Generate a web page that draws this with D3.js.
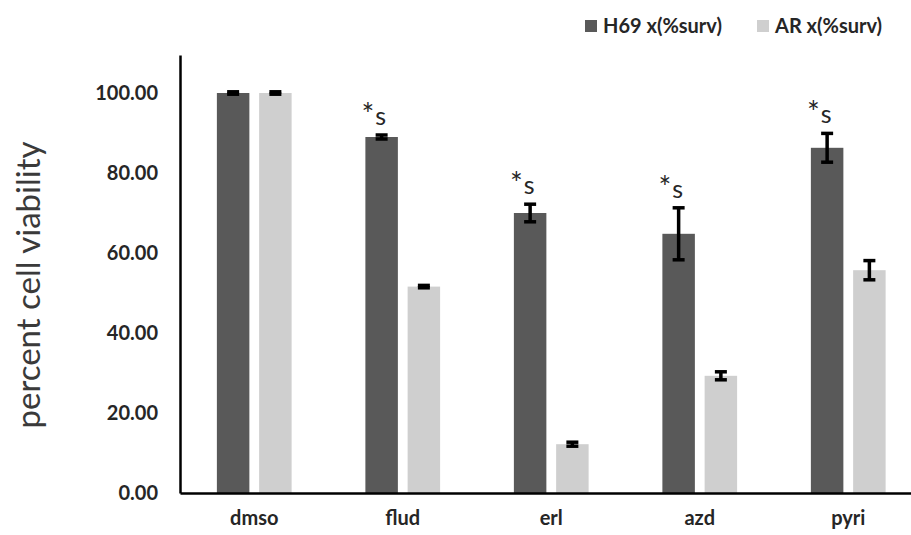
<!DOCTYPE html>
<html>
<head>
<meta charset="utf-8">
<script src="https://cdn.jsdelivr.net/npm/d3@7"></script>
<style>
  body { margin: 0; background: #fff; }
  text { font-family: Lato, "Open Sans", sans-serif; }
</style>
</head>
<body>
<script>
//data
var categories = ["dmso", "flud", "erl", "azd", "pyri"];
var seriesNames = ["H69 x(%surv)", "AR x(%surv)"];
var h69Values = [100, 89, 70, 64.8, 86.3];
var h69Errors = [0.3, 0.5, 2.2, 6.5, 3.6];
var arValues = [100, 51.6, 12.2, 29.3, 55.7];
var arErrors = [0.3, 0.3, 0.5, 1, 2.4];
var sigLabels = ["", "*s", "*s", "*s", "*s"];
var yTicks = [0, 20, 40, 60, 80, 100];

var colors = ["#595959", "#cfcfcf"];

var width = 911, height = 535;

var svg = d3.select("body")
  .append("svg")
  .attr("width", width)
  .attr("height", height);

//scales
var x = d3.scaleBand()
  .domain(categories)
  .range([180, 922.5])
  .padding(0);

var xInner = d3.scaleBand()
  .domain(seriesNames)
  .range([0, x.bandwidth()])
  .paddingInner(0.231)
  .paddingOuter(0.873);

var y = d3.scaleLinear()
  .domain([0, 109.5])
  .range([493, 55]);

//build rows for the bars
var rows = [];
categories.forEach(function(c, i){
  rows.push({cat: c, series: seriesNames[0], value: h69Values[i], err: h69Errors[i], color: colors[0]});
  rows.push({cat: c, series: seriesNames[1], value: arValues[i], err: arErrors[i], color: colors[1]});
});

//bars
svg.selectAll(".bar")
  .data(rows)
  .enter()
  .append("rect")
  .attr("class", "bar")
  .attr("x", function(d){ return x(d.cat) + xInner(d.series); })
  .attr("y", function(d){ return y(d.value); })
  .attr("width", xInner.bandwidth())
  .attr("height", function(d){ return y(0) - y(d.value); })
  .style("fill", function(d){ return d.color; });

//error bars
var capW = 12;
var eb = svg.selectAll(".err")
  .data(rows)
  .enter()
  .append("g")
  .attr("class", "err")
  .attr("transform", function(d){
    return "translate(" + (x(d.cat) + xInner(d.series) + xInner.bandwidth() / 2) + ",0)";
  });

eb.append("line")
  .attr("x1", 0).attr("x2", 0)
  .attr("y1", function(d){ return y(d.value + d.err); })
  .attr("y2", function(d){ return y(d.value - d.err); })
  .attr("stroke", "#000")
  .attr("stroke-width", 3.5);

eb.selectAll(".cap")
  .data(function(d){ return [d.value + d.err, d.value - d.err]; })
  .enter()
  .append("line")
  .attr("x1", -capW / 2).attr("x2", capW / 2)
  .attr("y1", function(v){ return y(v); })
  .attr("y2", function(v){ return y(v); })
  .attr("stroke", "#000")
  .attr("stroke-width", 3.5);

//significance labels above the H69 bars
var sig = svg.selectAll(".sig")
  .data(categories)
  .enter()
  .filter(function(d, i){ return sigLabels[i] !== ""; })
  .append("text")
  .attr("class", "sig")
  .attr("x", function(d){ return x(d) + xInner(seriesNames[0]) - 4; })
  .attr("y", function(d){
    var i = categories.indexOf(d);
    return y(h69Values[i] + h69Errors[i]) - 10;
  })
  .style("font-size", "25px")
  .style("fill", "#262626");

sig.append("tspan")
  .style("font-size", "30px")
  .text(function(d){ return sigLabels[categories.indexOf(d)].charAt(0); });
sig.append("tspan")
  .attr("dx", "1")
  .text(function(d){ return sigLabels[categories.indexOf(d)].slice(1); });

//y axis
var yAxis = d3.axisLeft(y)
  .tickValues(yTicks)
  .tickSize(0)
  .tickPadding(22)
  .tickFormat(d3.format(".2f"));

var gy = svg.append("g")
  .attr("transform", "translate(180,0)")
  .call(yAxis);
gy.select(".domain").attr("stroke", "#000").attr("stroke-width", 2.5);
gy.selectAll("text")
  .style("font-size", "20px")
  .style("font-weight", "bold")
  .style("fill", "#262626")
  .style("font-family", "Lato, sans-serif");

//x axis
var xAxis = d3.axisBottom(x)
  .tickSize(0)
  .tickPadding(18);

var gx = svg.append("g")
  .attr("transform", "translate(0," + y(0) + ")")
  .call(xAxis);
gx.select(".domain").attr("stroke", "#000").attr("stroke-width", 2.5);
gx.selectAll("text")
  .style("font-size", "20px")
  .style("font-weight", "bold")
  .style("fill", "#262626")
  .style("font-family", "Lato, sans-serif");

//y axis title
svg.append("text")
  .attr("transform", "translate(40," + y(52) + ") rotate(-90)")
  .attr("text-anchor", "middle")
  .style("font-size", "33px")
  .style("fill", "#3a3a3a")
  .text("percent cell viability");

//legend
var legendX = [585, 757];
var legend = svg.selectAll(".legend")
  .data(seriesNames)
  .enter()
  .append("g")
  .attr("class", "legend")
  .attr("transform", function(d, i){ return "translate(" + legendX[i] + ",20)"; });

legend.append("rect")
  .attr("width", 12)
  .attr("height", 12)
  .style("fill", function(d, i){ return colors[i]; });

legend.append("text")
  .attr("x", 18)
  .attr("y", 13)
  .style("font-size", "20px")
  .style("font-weight", "bold")
  .style("fill", "#262626")
  .text(function(d){ return d; });
</script>
</body>
</html>
